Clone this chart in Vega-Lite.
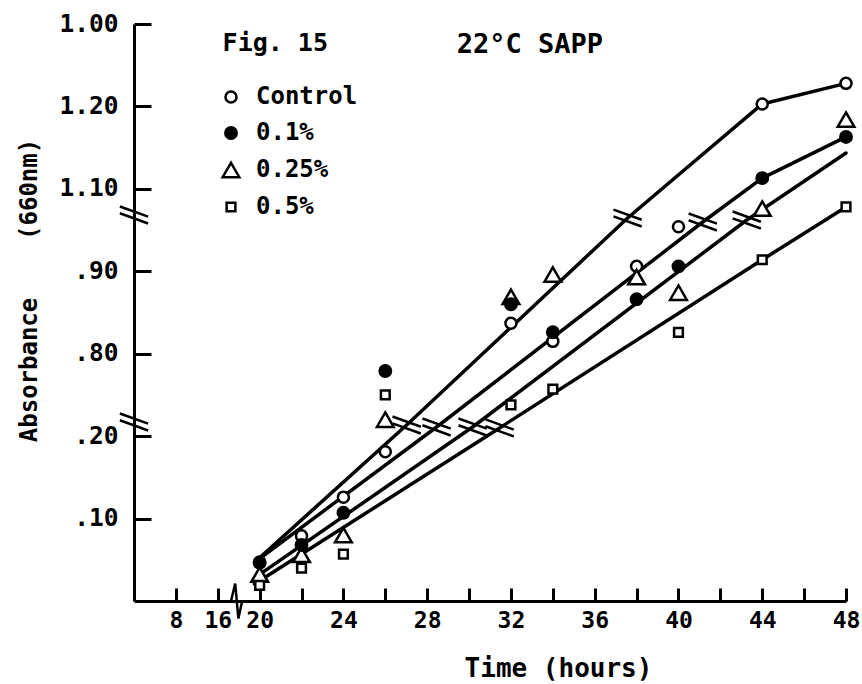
{
  "$schema": "https://vega.github.io/schema/vega-lite/v6.json",
  "width": 712,
  "height": 577,
  "autosize": {"type": "none"},
  "padding": {"left": 134, "top": 24, "right": 16, "bottom": 83},
  "background": "white",
  "config": {"view": {"stroke": null}, "font": "DejaVu Sans Mono"},
  "datasets": {
    "points": [
      {"s": "Control", "t": 20, "a": 0.046},
      {"s": "Control", "t": 22, "a": 0.079},
      {"s": "Control", "t": 24, "a": 0.126},
      {"s": "Control", "t": 26, "a": 0.181},
      {"s": "Control", "t": 32, "a": 0.337},
      {"s": "Control", "t": 34, "a": 0.315},
      {"s": "Control", "t": 38, "a": 0.406},
      {"s": "Control", "t": 40, "a": 0.454},
      {"s": "Control", "t": 44, "a": 0.603},
      {"s": "Control", "t": 48, "a": 0.628},
      {"s": "0.25%", "t": 20, "a": 0.032},
      {"s": "0.25%", "t": 22, "a": 0.056},
      {"s": "0.25%", "t": 24, "a": 0.080},
      {"s": "0.25%", "t": 26, "a": 0.220},
      {"s": "0.25%", "t": 32, "a": 0.369},
      {"s": "0.25%", "t": 34, "a": 0.396},
      {"s": "0.25%", "t": 38, "a": 0.393},
      {"s": "0.25%", "t": 40, "a": 0.374},
      {"s": "0.25%", "t": 44, "a": 0.476},
      {"s": "0.25%", "t": 48, "a": 0.584},
      {"s": "0.1%", "t": 20, "a": 0.047},
      {"s": "0.1%", "t": 22, "a": 0.068},
      {"s": "0.1%", "t": 24, "a": 0.107},
      {"s": "0.1%", "t": 26, "a": 0.279},
      {"s": "0.1%", "t": 32, "a": 0.360},
      {"s": "0.1%", "t": 34, "a": 0.326},
      {"s": "0.1%", "t": 38, "a": 0.366},
      {"s": "0.1%", "t": 40, "a": 0.406},
      {"s": "0.1%", "t": 44, "a": 0.513},
      {"s": "0.1%", "t": 48, "a": 0.563},
      {"s": "0.5%", "t": 20, "a": 0.019},
      {"s": "0.5%", "t": 22, "a": 0.040},
      {"s": "0.5%", "t": 24, "a": 0.057},
      {"s": "0.5%", "t": 26, "a": 0.250},
      {"s": "0.5%", "t": 32, "a": 0.238},
      {"s": "0.5%", "t": 34, "a": 0.257},
      {"s": "0.5%", "t": 40, "a": 0.326},
      {"s": "0.5%", "t": 44, "a": 0.414},
      {"s": "0.5%", "t": 48, "a": 0.478}
    ],
    "lines": [
      {"s": "Control", "t": 19.76, "a": 0.047},
      {"s": "Control", "t": 27.02, "a": 0.2135},
      {"s": "Control", "t": 37.57, "a": 0.4646},
      {"s": "Control", "t": 44, "a": 0.603},
      {"s": "Control", "t": 48, "a": 0.628},
      {"s": "0.1%", "t": 19.76, "a": 0.047},
      {"s": "0.1%", "t": 28.45, "a": 0.2111},
      {"s": "0.1%", "t": 41.16, "a": 0.4598},
      {"s": "0.1%", "t": 44, "a": 0.513},
      {"s": "0.1%", "t": 48, "a": 0.563},
      {"s": "0.25%", "t": 19.76, "a": 0.028},
      {"s": "0.25%", "t": 30.17, "a": 0.2111},
      {"s": "0.25%", "t": 43.26, "a": 0.4622},
      {"s": "0.25%", "t": 48, "a": 0.5435},
      {"s": "0.5%", "t": 19.76, "a": 0.0206},
      {"s": "0.5%", "t": 31.46, "a": 0.21},
      {"s": "0.5%", "t": 44, "a": 0.414},
      {"s": "0.5%", "t": 48, "a": 0.478}
    ],
    "breaks": [
      {"t": 27.02, "a": 0.2135},
      {"t": 28.45, "a": 0.2111},
      {"t": 30.17, "a": 0.2111},
      {"t": 31.46, "a": 0.21},
      {"t": 37.57, "a": 0.4646},
      {"t": 41.16, "a": 0.4598},
      {"t": 43.26, "a": 0.4622},
      {"t": 14, "a": 0.4683},
      {"t": 14, "a": 0.2172}
    ],
    "xbreak": [
      {"t": 18.9, "a": 0}
    ],
    "notes": [
      {"label": "Fig. 15", "t": 18.23, "a": 0.667},
      {"label": "22°C SAPP", "t": 29.41, "a": 0.665}
    ]
  },
  "encoding": {
    "x": {
      "field": "t",
      "type": "quantitative",
      "scale": {"domain": [14, 48], "nice": false, "zero": false},
      "axis": {
        "values": [16, 18, 20, 22, 24, 26, 28, 30, 32, 34, 36, 38, 40, 42, 44, 46, 48],
        "labelExpr": "datum.value == 16 ? '8' : datum.value == 18 ? '16' : (datum.value % 4 == 0 ? datum.label : '')",
        "grid": false,
        "tickSize": -13,
        "tickWidth": 3,
        "tickColor": "black",
        "domainWidth": 3,
        "domainColor": "black",
        "labelFont": "DejaVu Sans Mono",
        "labelFontWeight": "bold",
        "labelFontSize": 23,
        "labelColor": "black",
        "labelPadding": 21,
        "labelFlush": false,
        "labelOverlap": false,
        "title": "Time (hours)",
        "titleFont": "DejaVu Sans Mono",
        "titleFontWeight": "bold",
        "titleFontSize": 26,
        "titleColor": "black",
        "titleX": 424,
        "titleY": 75,
        "titleAlign": "center",
        "titleBaseline": "alphabetic"
      }
    },
    "y": {
      "field": "a",
      "type": "quantitative",
      "scale": {"domain": [0, 0.7], "nice": false, "zero": false},
      "axis": {
        "values": [0.1, 0.2, 0.3, 0.4, 0.5, 0.6, 0.7],
        "labelExpr": "['', '.10', '.20', '.80', '.90', '1.10', '1.20', '1.00'][round(datum.value * 10)]",
        "grid": false,
        "tickSize": -17,
        "tickWidth": 3,
        "tickColor": "black",
        "domainWidth": 3,
        "domainColor": "black",
        "labelFont": "DejaVu Sans Mono",
        "labelFontWeight": "bold",
        "labelFontSize": 24.5,
        "labelColor": "black",
        "labelPadding": 33,
        "labelOverlap": false,
        "title": "Absorbance\u00a0\u00a0\u00a0\u00a0(660nm)",
        "titleFont": "DejaVu Sans Mono",
        "titleFontWeight": "bold",
        "titleFontSize": 24,
        "titleColor": "black",
        "titleAngle": -90,
        "titleX": -104.5,
        "titleY": 266,
        "titleAlign": "center",
        "titleBaseline": "middle"
      }
    }
  },
  "layer": [
    {
      "data": {"name": "lines"},
      "mark": {"type": "line", "color": "black", "strokeWidth": 3.5, "strokeCap": "round", "strokeJoin": "round"},
      "encoding": {"detail": {"field": "s", "type": "nominal"}}
    },
    {
      "data": {"name": "breaks"},
      "mark": {"type": "point", "shape": "M-1,-0.6L1,0.12M-1,-0.12L1,0.6", "filled": false, "stroke": "black", "strokeWidth": 2.5, "size": 800, "opacity": 1}
    },
    {
      "data": {"name": "xbreak"},
      "mark": {"type": "point", "shape": "M-0.32,0L-0.08,-1L0.1,1L0.32,0", "filled": false, "stroke": "black", "strokeWidth": 2.5, "size": 1225, "opacity": 1, "strokeJoin": "miter"}
    },
    {
      "data": {"name": "points"},
      "mark": {"type": "point", "filled": true, "strokeWidth": 2.5, "size": 361, "opacity": 1},
      "encoding": {
        "shape": {
          "field": "s",
          "type": "nominal",
          "scale": {
            "domain": ["Control", "0.1%", "0.25%", "0.5%"],
            "range": [
              "M-0.58,0A0.58,0.58 0 1,1 0.58,0A0.58,0.58 0 1,1 -0.58,0Z",
              "M-0.6,0A0.6,0.6 0 1,1 0.6,0A0.6,0.6 0 1,1 -0.6,0Z",
              "M0,-0.76L0.88,0.76L-0.88,0.76Z",
              "M-0.46,-0.46L0.46,-0.46L0.46,0.46L-0.46,0.46Z"
            ]
          },
          "legend": {
            "title": null,
            "orient": "none",
            "legendX": 85,
            "legendY": 61,
            "labelFont": "DejaVu Sans Mono",
            "labelFontWeight": "bold",
            "labelFontSize": 24,
            "labelColor": "black",
            "labelOffset": 13,
            "rowPadding": 12,
            "symbolSize": 361,
            "symbolStrokeWidth": 2.5,
            "padding": 0
          }
        },
        "fill": {
          "field": "s",
          "type": "nominal",
          "scale": {
            "domain": ["Control", "0.1%", "0.25%", "0.5%"],
            "range": ["white", "black", "white", "white"]
          },
          "legend": {
            "title": null,
            "orient": "none",
            "legendX": 85,
            "legendY": 61,
            "labelFont": "DejaVu Sans Mono",
            "labelFontWeight": "bold",
            "labelFontSize": 24,
            "labelColor": "black",
            "labelOffset": 13,
            "rowPadding": 12,
            "symbolSize": 361,
            "symbolStrokeWidth": 2.5,
            "padding": 0
          }
        },
        "stroke": {
          "field": "s",
          "type": "nominal",
          "scale": {
            "domain": ["Control", "0.1%", "0.25%", "0.5%"],
            "range": ["black", "black", "black", "black"]
          },
          "legend": {
            "title": null,
            "orient": "none",
            "legendX": 85,
            "legendY": 61,
            "labelFont": "DejaVu Sans Mono",
            "labelFontWeight": "bold",
            "labelFontSize": 24,
            "labelColor": "black",
            "labelOffset": 13,
            "rowPadding": 12,
            "symbolSize": 361,
            "symbolStrokeWidth": 2.5,
            "padding": 0
          }
        }
      }
    },
    {
      "data": {"name": "notes"},
      "transform": [{"filter": "datum.label == 'Fig. 15'"}],
      "mark": {"type": "text", "align": "left", "baseline": "alphabetic", "font": "DejaVu Sans Mono", "fontWeight": "bold", "fontSize": 25, "color": "black"},
      "encoding": {"text": {"field": "label", "type": "nominal"}}
    },
    {
      "data": {"name": "notes"},
      "transform": [{"filter": "datum.label != 'Fig. 15'"}],
      "mark": {"type": "text", "align": "left", "baseline": "alphabetic", "font": "DejaVu Sans Mono", "fontWeight": "bold", "fontSize": 27, "color": "black"},
      "encoding": {"text": {"field": "label", "type": "nominal"}}
    }
  ]
}
